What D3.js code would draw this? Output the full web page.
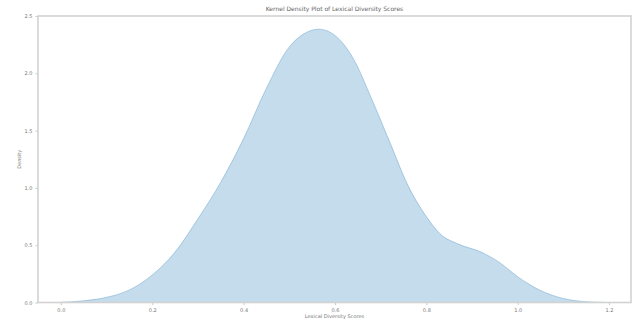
<!DOCTYPE html>
<html><head><meta charset="utf-8">
<script src="https://cdn.jsdelivr.net/npm/d3@7"></script>
<style>body{margin:0;background:#fff}svg{display:block}text{font-family:"DejaVu Sans",sans-serif}</style>
</head><body><svg id="c" width="632" height="320"></svg>
<script>
const scores = [0.0,0.05,0.10,0.15,0.20,0.25,0.30,0.35,0.40,0.45,0.50,0.53,0.565,0.60,0.64,0.68,0.72,0.76,0.80,0.83,0.87,0.92,0.96,1.00,1.05,1.10,1.15,1.19];
const density = [0.002,0.015,0.045,0.110,0.24,0.44,0.73,1.05,1.43,1.87,2.23,2.34,2.385,2.33,2.13,1.78,1.40,1.02,0.75,0.60,0.51,0.44,0.35,0.225,0.105,0.035,0.007,0.001];
const xTicks = [0.0,0.2,0.4,0.6,0.8,1.0,1.2];
const yTicks = [0.0,0.5,1.0,1.5,2.0,2.5];
const title = "Kernel Density Plot of Lexical Diversity Scores";
const xLabel = "Lexical Diversity Scores";
const yLabel = "Density";

const svg = d3.select("#c");
const L = 38, R = 631, T = 16, B = 302.5;
const x = d3.scaleLinear().domain([-0.05, 1.248]).range([L, R]);
const y = d3.scaleLinear().domain([0, 2.5]).range([B, T]);
const pts = scores.map((s,i)=>[s, density[i]]);

svg.append("path").datum(pts)
  .attr("d", d3.area().x(d=>x(d[0])).y0(y(0)).y1(d=>y(d[1])).curve(d3.curveMonotoneX))
  .attr("fill", "#1f77b4").attr("fill-opacity", 0.26);
svg.append("path").datum(pts)
  .attr("d", d3.line().x(d=>x(d[0])).y(d=>y(d[1])).curve(d3.curveMonotoneX))
  .attr("fill", "none").attr("stroke", "#1f77b4").attr("stroke-opacity", 0.3).attr("stroke-width", 1);

const xa = svg.append("g").attr("transform", `translate(0,${B})`)
  .call(d3.axisBottom(x).tickValues(xTicks).tickFormat(d3.format(".1f")).tickSize(2.5).tickPadding(3));
const ya = svg.append("g").attr("transform", `translate(${L},0)`)
  .call(d3.axisLeft(y).tickValues(yTicks).tickFormat(d3.format(".1f")).tickSize(2.5).tickPadding(3));
[xa, ya].forEach(g => {
  g.select(".domain").remove();
  g.selectAll("line").attr("stroke", "#bbb").attr("stroke-width", 0.8);
  g.selectAll("text").attr("fill", "#777").attr("font-size", 5);
});
// spines
svg.append("rect").attr("x", L).attr("y", T).attr("width", R - L).attr("height", B - T)
  .attr("fill", "none").attr("stroke", "#d2d2d2").attr("stroke-width", 1.6);

svg.append("text").attr("x", (L+R)/2).attr("y", 11).attr("text-anchor", "middle")
  .attr("font-size", 6).attr("fill", "#666").text(title);
svg.append("text").attr("x", (L+R)/2).attr("y", 318).attr("text-anchor", "middle")
  .attr("font-size", 5).attr("fill", "#777").text(xLabel);
svg.append("text").attr("transform", `translate(21,${(T+B)/2}) rotate(-90)`).attr("text-anchor", "middle")
  .attr("font-size", 5).attr("fill", "#777").text(yLabel);
</script></body></html>
